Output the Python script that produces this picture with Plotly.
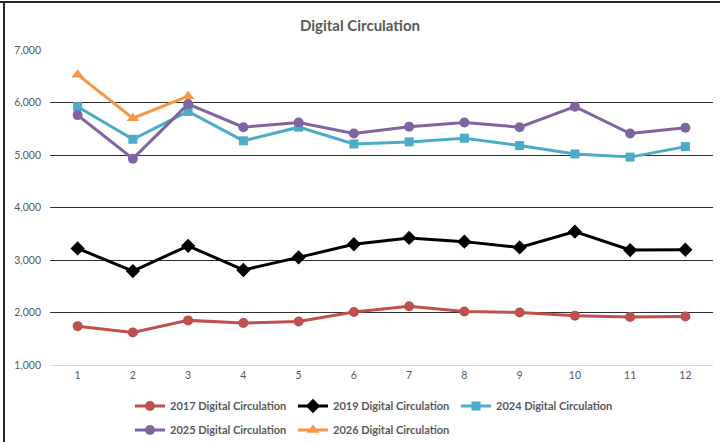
import plotly.graph_objects as go

months = [1, 2, 3, 4, 5, 6, 7, 8, 9, 10, 11, 12]
circ_2017 = [1740, 1620, 1850, 1800, 1830, 2010, 2120, 2020, 2000, 1940, 1915, 1925]
circ_2019 = [3220, 2790, 3270, 2810, 3050, 3300, 3420, 3350, 3240, 3540, 3190, 3195]
circ_2024 = [5920, 5300, 5830, 5270, 5530, 5210, 5250, 5320, 5180, 5020, 4960, 5160]
circ_2025 = [5760, 4930, 5970, 5530, 5620, 5410, 5540, 5620, 5530, 5920, 5410, 5520]
circ_2026 = [6530, 5700, 6120]
y_ticks = [1000, 2000, 3000, 4000, 5000, 6000, 7000]

FONT = "Lato"
TXT = "#595959"

series = [
    ("2017 Digital Circulation", months, circ_2017, "#C0504D", "circle", 10, "legend"),
    ("2019 Digital Circulation", months, circ_2019, "#000000", "diamond", 11, "legend"),
    ("2024 Digital Circulation", months, circ_2024, "#4BACC6", "square", 9, "legend"),
    ("2025 Digital Circulation", months, circ_2025, "#8064A2", "circle", 10, "legend2"),
    ("2026 Digital Circulation", months[:len(circ_2026)], circ_2026, "#F79646", "triangle-up", 11, "legend2"),
]

fig = go.Figure()
for name, xs, ys, color, sym, ms, lg in series:
    fig.add_trace(go.Scatter(
        x=xs, y=ys, name=name, mode="lines+markers",
        line=dict(color=color, width=3),
        marker=dict(color=color, symbol=sym, size=ms),
        legend=lg,
    ))

legend_common = dict(
    orientation="h", xref="container", yref="container",
    xanchor="left", yanchor="middle",
    font=dict(family=FONT, size=11, color=TXT, weight="bold"),
    entrywidth=118, bgcolor="rgba(0,0,0,0)", itemclick=False,
)

fig.update_layout(
    width=720, height=442,
    margin=dict(l=50, r=7, t=50, b=77),
    paper_bgcolor="white", plot_bgcolor="white",
    title=dict(text="<b>Digital Circulation</b>", x=0.5, xref="container", xanchor="center",
               y=1 - 26 / 442, yref="container", yanchor="middle",
               font=dict(family=FONT, size=15, color=TXT)),
    showlegend=True,
    legend=dict(x=130 / 720, y=(442 - 406) / 442, **legend_common),
    legend2=dict(x=130 / 720, y=(442 - 430) / 442, **legend_common),
    xaxis=dict(range=[0.5, 12.5], tickmode="array", tickvals=months,
               ticktext=[str(m) for m in months], showgrid=False, zeroline=False,
               showline=True, linecolor="#D9D9D9", linewidth=1, ticks="",
               tickfont=dict(family=FONT, size=10.5, color=TXT)),
    yaxis=dict(range=[1000, 7000], tickmode="array", tickvals=y_ticks,
               ticktext=[f"{v:,}" for v in y_ticks], showgrid=True, gridcolor="#303030",
               gridwidth=1, zeroline=False, showline=False, ticks="",
               ticklabelstandoff=8,
               tickfont=dict(family=FONT, size=10.5, color=TXT)),
    shapes=[
        dict(type="line", xref="paper", yref="paper", x0=-54 / 663, x1=1.02, y0=(365 - 2) / 315, y1=(365 - 2) / 315,
             line=dict(color="#262626", width=2)),
        dict(type="line", xref="paper", yref="paper", x0=-46 / 663, x1=-46 / 663, y0=(365 - 2) / 315, y1=-0.3,
             line=dict(color="#262626", width=2)),
    ],
)

fig.write_html("out.html", config={"displayModeBar": False},
               post_script="document.body.style.margin='0';")
